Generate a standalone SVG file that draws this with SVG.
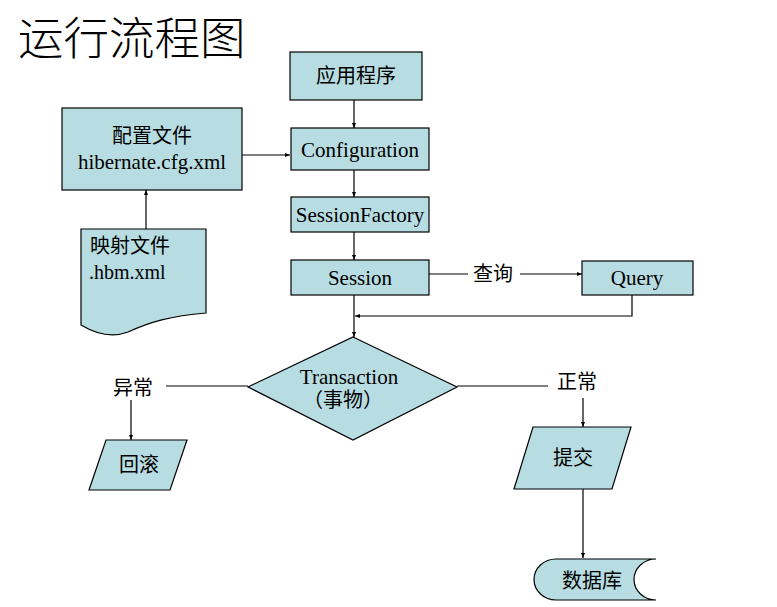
<svg xmlns="http://www.w3.org/2000/svg" width="777" height="607" viewBox="0 0 777 607">
<defs>
<marker id="arr" viewBox="0 0 10 10" refX="10" refY="5" markerWidth="5" markerHeight="5" orient="auto" markerUnits="userSpaceOnUse">
<path d="M0,1 L10,5 L0,9 Z" fill="#000"/>
</marker>
<style>
.n{fill:#b7dde2;stroke:#000;stroke-width:1.2}
.t{font-family:"Liberation Serif","Noto Sans CJK SC",serif;font-size:20px;fill:#000;text-anchor:middle}
.e{font-size:21px}
.tl{font-family:"Liberation Serif","Noto Sans CJK SC",serif;font-size:20px;fill:#000}
.c{fill:none;stroke:#000;stroke-width:1.2}
.a{fill:none;stroke:#000;stroke-width:1.2;marker-end:url(#arr)}
</style>
</defs>
<rect width="777" height="607" fill="#fff"/>
<text x="18" y="55" font-family="'Noto Sans CJK SC','Liberation Serif',serif" font-size="45.5" font-weight="300" fill="#000">运行流程图</text>

<g id="connectors">
<line class="a" x1="354" y1="100" x2="354" y2="128"/>
<line class="a" x1="242" y1="155" x2="290" y2="155"/>
<line class="a" x1="146" y1="232" x2="146" y2="190"/>
<line class="a" x1="354" y1="170" x2="354" y2="197"/>
<line class="a" x1="354" y1="232" x2="354" y2="260"/>
<line class="a" x1="354" y1="295" x2="354" y2="337"/>
<line class="c" x1="429" y1="274" x2="468" y2="274"/>
<line class="a" x1="520" y1="274" x2="582" y2="274"/>
<polyline class="a" points="632,295 632,316 355,316"/>
<line class="c" x1="248" y1="386" x2="166" y2="386"/>
<line class="a" x1="131" y1="400" x2="131" y2="440"/>
<line class="c" x1="457" y1="386" x2="548" y2="386"/>
<line class="a" x1="583" y1="398" x2="583" y2="427"/>
<line class="a" x1="583" y1="489" x2="583" y2="558"/>
<text class="t" x="493" y="281">查询</text>
<text class="t" x="133" y="395">异常</text>
<text class="t" x="577" y="389">正常</text>
</g>

<g id="app">
<rect class="n" x="290" y="52" width="132" height="48"/>
<text class="t" x="356" y="83">应用程序</text>
</g>
<g id="cfgfile">
<rect class="n" x="62" y="108" width="180" height="82"/>
<text class="t" x="152" y="143">配置文件</text>
<text class="t e" x="152" y="169">hibernate.cfg.xml</text>
</g>
<g id="configuration">
<rect class="n" x="291" y="128" width="138" height="42"/>
<text class="t e" x="360" y="157">Configuration</text>
</g>
<g id="sessionfactory">
<rect class="n" x="291" y="197" width="138" height="35"/>
<text class="t e" x="360" y="222">SessionFactory</text>
</g>
<g id="session">
<rect class="n" x="291" y="260" width="138" height="35"/>
<text class="t e" x="360" y="285">Session</text>
</g>
<g id="query">
<rect class="n" x="582" y="261" width="111" height="34"/>
<text class="t e" x="637" y="285">Query</text>
</g>
<g id="mapping">
<path class="n" d="M81,229 L206,229 L206,313 C170,316 150,322 128,332 C112,338 96,334 81,325 Z"/>
<text class="tl" x="90" y="253">映射文件</text>
<text class="tl e" x="89" y="279">.hbm.xml</text>
</g>
<g id="transaction">
<polygon class="n" points="353,337 457,387 353,440 248,387"/>
<text class="t e" x="349" y="384">Transaction</text>
<text class="t" x="343" y="407">（事物）</text>
</g>
<g id="rollback">
<polygon class="n" points="106,440 187,440 170,490 89,490"/>
<text class="t" x="139" y="472">回滚</text>
</g>
<g id="commit">
<polygon class="n" points="533,427 631,427 612,489 514,489"/>
<text class="t" x="573" y="465">提交</text>
</g>
<g id="database">
<path class="n" d="M556,559 L656,559 A22,20.5 0 0 0 656,600 L556,600 A22,20.5 0 0 1 556,559 Z"/>
<text class="t" x="592" y="588">数据库</text>
</g>
</svg>
